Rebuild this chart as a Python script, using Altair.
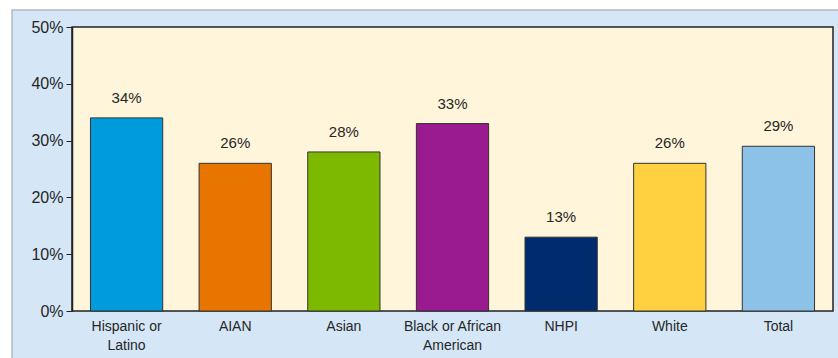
import altair as alt
import pandas as pd

categories = ["Hispanic or\nLatino", "AIAN", "Asian", "Black or African\nAmerican", "NHPI", "White", "Total"]
values = [0.34, 0.26, 0.28, 0.33, 0.13, 0.26, 0.29]
colors = ["#009BDB", "#E87500", "#7DB900", "#9A1A8F", "#002C6E", "#FFD141", "#8DC2E8"]
tick_values = [0, 0.1, 0.2, 0.3, 0.4, 0.5]

df = pd.DataFrame({"cat": categories, "val": values, "color": colors})
one = pd.DataFrame({"k": [0]})

W, H = 761, 284
FONT = "Liberation Sans, Arial, sans-serif"

panel = alt.Chart(one).mark_rect(fill="#D5E6F7", stroke="#AEBBC8", strokeWidth=1.5).encode(
    x=alt.value(-60), x2=alt.value(W + 40), y=alt.value(-17), y2=alt.value(H + 80)
)
plotbg = alt.Chart(one).mark_rect(fill="#FFF5DA", stroke="#222222", strokeWidth=1.5).encode(
    x=alt.value(0), x2=alt.value(W), y=alt.value(0), y2=alt.value(H)
)

xenc = alt.X("cat:N", sort=categories,
             scale=alt.Scale(paddingInner=0.335, paddingOuter=0.17),
             axis=alt.Axis(title=None, labelAngle=0, ticks=False, domain=False,
                           labelExpr="split(datum.label, '\\n')",
                           labelFont=FONT, labelFontSize=14, labelColor="#262626",
                           labelPadding=8, labelLineHeight=19, zindex=1))
yenc = alt.Y("val:Q", scale=alt.Scale(domain=[0, 0.5]),
             axis=alt.Axis(title=None, values=tick_values, format=".0%", grid=False,
                           domainColor="#222222", domainWidth=1.5, tickColor="#222222",
                           tickSize=6, labelFont=FONT, labelFontSize=16, labelColor="#262626",
                           labelPadding=3, zindex=1))

bars = alt.Chart(df).mark_bar(stroke="#333333", strokeWidth=1).encode(
    x=xenc, y=yenc, color=alt.Color("color:N", scale=None)
)
labels = alt.Chart(df).mark_text(dy=-20, font=FONT, fontSize=15, color="#262626").encode(
    x=alt.X("cat:N", sort=categories), y="val:Q", text=alt.Text("val:Q", format=".0%")
)

chart = alt.layer(panel, plotbg, bars, labels).properties(
    width=W, height=H,
    autosize=alt.AutoSizeParams(type="none"),
    padding={"left": 72, "top": 27, "right": 5, "bottom": 47},
    background="white",
).configure_view(stroke=None)

chart.save("out.html", embed_options={"renderer": "svg", "actions": False})
